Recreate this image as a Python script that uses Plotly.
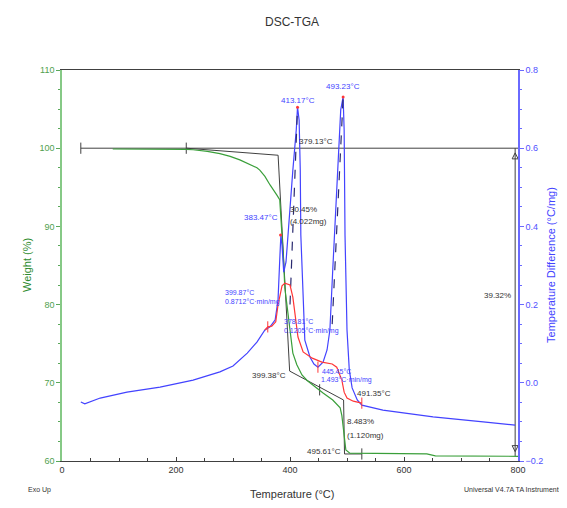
import plotly.graph_objects as go

# ---------------- data ----------------
# TGA weight curve (green, left axis)
tga_T = [89, 120, 154, 190, 218, 230, 255, 277, 295, 312, 330, 342, 347, 356, 365, 372, 377, 382,
         385, 388, 391, 395, 400, 405, 412, 421, 430, 440, 458, 475, 488, 491, 493, 495, 498, 505,
         560, 640, 655, 720, 800]
tga_W = [99.9, 99.9, 99.9, 99.85, 99.85, 99.8, 99.6, 99.3, 98.95, 98.5, 97.9, 97.5, 97.2, 96.4, 95.3, 94.6, 94.0, 93.4,
         90.5, 86.5, 82.1, 79.5, 76.8, 73.8, 72.3, 71.0, 70.3, 69.7, 68.7, 67.8, 66.8, 65.8, 64.6, 62.7, 61.4, 61.0,
         60.95, 60.9, 60.65, 60.6, 60.6]

# DSC curve (blue, right axis)
dsc_T = [33, 40, 67, 114, 172, 230, 277, 300, 325, 342, 356, 365, 374, 379, 382, 384, 386, 389, 393,
         398, 405, 411, 413.2, 416, 418, 419, 423, 426, 435, 442, 449, 458, 465, 470, 475, 481, 486,
         489, 493.2, 495, 496.5, 500, 504, 509, 518, 526, 563, 651, 739, 795]
dsc_D = [-0.049, -0.054, -0.039, -0.024, -0.011, 0.007, 0.028, 0.043, 0.076, 0.104, 0.135, 0.143, 0.161, 0.212, 0.314, 0.378, 0.352, 0.283, 0.309,
         0.416, 0.544, 0.647, 0.705, 0.672, 0.544, 0.378, 0.212, 0.109, 0.066, 0.048, 0.040, 0.053, 0.084, 0.135, 0.289, 0.468, 0.595,
         0.698, 0.731, 0.647, 0.378, 0.135, 0.033, -0.013, -0.044, -0.057, -0.070, -0.087, -0.100, -0.108]

# red curve (right axis)
red_T = [356, 361, 368, 375, 379, 383, 386, 391, 400, 405, 409, 414, 423, 439, 456, 474, 482, 491, 495, 500, 511, 526]
red_D = [0.135, 0.143, 0.145, 0.156, 0.199, 0.232, 0.248, 0.255, 0.250, 0.219, 0.168, 0.117, 0.079, 0.063, 0.053, 0.048, 0.040, 0.007, -0.024, -0.039, -0.047, -0.052]

# red analysis tick marks (right axis)
redtick_T = [361, 449, 526]
redtick_D = [0.143, 0.040, -0.052]
reddot_T = [383.47, 413.17, 493.23]
reddot_D = [0.378, 0.705, 0.731]

# black step-analysis construction lines (left axis)
base_T = [33, 800]
base_W = [100, 100]
tan1_T = [218, 379.13, 399.38]
tan1_W = [100, 99.1, 71.5]
tan2_T = [399.38, 494, 495.61, 526]
tan2_W = [71.5, 67.8, 60.9, 60.9]
loss_T = [795, 795]
loss_W = [100, 60.6]
btick_T = [33, 218, 452, 526]
btick_W = [100, 100, 69.1, 60.9]

# dashed peak flank lines (right axis)
flank1_T = [400, 413.17]
flank1_D = [0.2, 0.705]
flank2_T = [474, 493.23]
flank2_D = [0.15, 0.731]

# tick values
x_ticks = [0, 200, 400, 600, 800]
w_ticks = [60, 70, 80, 90, 100, 110]
d_ticks = [-0.2, 0.0, 0.2, 0.4, 0.6, 0.8]

GREEN = "#3a9f3a"
BLUE = "#4343ff"
RED = "#ff3636"
BLACK = "#404040"
FONT = "Liberation Sans, Arial, sans-serif"

fig = go.Figure()

# construction lines
for tx, wy in [(base_T, base_W), (tan1_T, tan1_W), (tan2_T, tan2_W), (loss_T, loss_W)]:
    fig.add_trace(go.Scatter(x=tx, y=wy, mode="lines", line=dict(color=BLACK, width=1),
                             yaxis="y", hoverinfo="skip", showlegend=False))
fig.add_trace(go.Scatter(x=btick_T, y=btick_W, mode="markers",
                         marker=dict(symbol="line-ns-open", size=8, color=BLACK, line=dict(width=1, color=BLACK)),
                         yaxis="y", showlegend=False, hoverinfo="skip"))
fig.add_trace(go.Scatter(x=[loss_T[0], loss_T[1]], y=[loss_W[0] - 0.6, loss_W[1] + 0.6], mode="markers",
                         marker=dict(symbol=["arrow-up-open", "arrow-down-open"], size=6, color=BLACK,
                                     line=dict(width=1, color=BLACK)),
                         yaxis="y", showlegend=False, hoverinfo="skip"))

# TGA
fig.add_trace(go.Scatter(x=tga_T, y=tga_W, mode="lines", line=dict(color=GREEN, width=1.2),
                         yaxis="y", showlegend=False))

# DSC
fig.add_trace(go.Scatter(x=dsc_T, y=dsc_D, mode="lines", line=dict(color=BLUE, width=1.2),
                         yaxis="y2", showlegend=False))
fig.add_trace(go.Scatter(x=flank1_T, y=flank1_D, mode="lines", line=dict(color="#2a2a70", width=1.2, dash="dash"),
                         yaxis="y2", showlegend=False, hoverinfo="skip"))
fig.add_trace(go.Scatter(x=flank2_T, y=flank2_D, mode="lines", line=dict(color="#2a2a70", width=1.2, dash="dash"),
                         yaxis="y2", showlegend=False, hoverinfo="skip"))
fig.add_trace(go.Scatter(x=red_T, y=red_D, mode="lines", line=dict(color=RED, width=1.2),
                         yaxis="y2", showlegend=False))
fig.add_trace(go.Scatter(x=redtick_T, y=redtick_D, mode="markers",
                         marker=dict(symbol="line-ns-open", size=8, color=RED, line=dict(width=1, color=RED)),
                         yaxis="y2", showlegend=False, hoverinfo="skip"))
fig.add_trace(go.Scatter(x=reddot_T, y=reddot_D, mode="markers",
                         marker=dict(symbol="circle", size=3, color=RED),
                         yaxis="y2", showlegend=False, hoverinfo="skip"))

ann = []
def txt(x, y, s, color, yref="y", xanchor="left", size=8):
    ann.append(dict(x=x, y=y, xref="x", yref=yref, text=s, showarrow=False, xanchor=xanchor,
                    yanchor="middle", font=dict(size=size, color=color, family=FONT)))

# black labels (weight axis)
txt(445.6, 100.8, "379.13°C", "#333333", xanchor="center")
txt(396.5, 92.1, "30.45%", "#333333")
txt(396.5, 90.6, "(4.022mg)", "#333333")
txt(396.5, 70.9, "399.38°C", "#333333", xanchor="right")
txt(514, 68.6, "491.35°C", "#333333")
txt(496.5, 65.0, "8.483%", "#333333")
txt(496.5, 63.3, "(1.120mg)", "#333333")
txt(493, 61.2, "495.61°C", "#333333", xanchor="right")
txt(791, 81.2, "39.32%", "#333333", xanchor="right")

# blue labels (DSC axis)
txt(414, 0.723, "413.17°C", BLUE, yref="y2", xanchor="center")
txt(493, 0.757, "493.23°C", BLUE, yref="y2", xanchor="center")
txt(382.5, 0.424, "383.47°C", BLUE, yref="y2", xanchor="right")
txt(282.5, 0.232, "399.87°C", BLUE, yref="y2", size=7)
txt(282.5, 0.207, "0.8712°C·min/mg", BLUE, yref="y2", size=7)
txt(386, 0.156, "378.81°C", BLUE, yref="y2", size=7)
txt(386, 0.133, "0.1205°C·min/mg", BLUE, yref="y2", size=7)
txt(452.6, 0.030, "445.45°C", BLUE, yref="y2", size=7)
txt(451, 0.007, "1.493°C·min/mg", BLUE, yref="y2", size=7)

# titles (paper)
def ptxt(x, y, s, color, size, xanchor="center", angle=0):
    ann.append(dict(x=x, y=y, xref="paper", yref="paper", text=s, showarrow=False, xanchor=xanchor,
                    yanchor="middle", textangle=angle, font=dict(size=size, color=color, family=FONT)))

ptxt(0.504, 1.123, "DSC-TGA", "#333333", 12)
ptxt(0.504, -0.084, "Temperature (°C)", "#333333", 11)
ptxt(-0.050, -0.074, "Exo Up", "#333333", 7)
ptxt(1.102, -0.074, "Universal V4.7A TA Instruments", "#333333", 7, xanchor="right")
ptxt(-0.077, 0.501, "Weight (%)", "#2e8b2e", 11, angle=-90)
ptxt(1.072, 0.501, "Temperature Difference (°C/mg)", BLUE, 11, angle=-90)

# page body has an 8px margin, so the figure is sized/offset to land on the 567x508 frame
fig.update_layout(
    width=559, height=500,
    margin=dict(l=54, r=49, t=62, b=47, autoexpand=False),
    paper_bgcolor="white", plot_bgcolor="white",
    font=dict(family=FONT),
    annotations=ann,
    xaxis=dict(range=[0, 800], tickvals=x_ticks, showgrid=False, zeroline=False, automargin=False,
               showline=True, linecolor=BLACK, linewidth=1, mirror=True,
               ticks="inside", ticklen=4, tickcolor=BLACK,
               minor=dict(dtick=50, ticks="inside", ticklen=3, tickcolor=BLACK),
               tickfont=dict(size=9, color="#333333")),
    yaxis=dict(range=[60, 110], tickvals=w_ticks, showgrid=False, zeroline=False, automargin=False,
               showline=True, linecolor="#86c986", linewidth=1.5,
               ticks="outside", ticklen=4, tickcolor="#5aa85a",
               minor=dict(dtick=2.5, ticks="outside", ticklen=2, tickcolor="#5aa85a"),
               tickfont=dict(size=9, color="#4fa04f")),
    yaxis2=dict(range=[-0.2, 0.8], tickvals=d_ticks, tickformat=".1f", overlaying="y", side="right",
                showgrid=False, zeroline=False, automargin=False,
                showline=True, linecolor="#6a6aff", linewidth=1.5,
                ticks="outside", ticklen=4, tickcolor="#6a6aff",
                minor=dict(dtick=0.05, ticks="outside", ticklen=2, tickcolor="#6a6aff"),
                tickfont=dict(size=9, color="#5050ff")),
)

fig.write_html("out.html")
